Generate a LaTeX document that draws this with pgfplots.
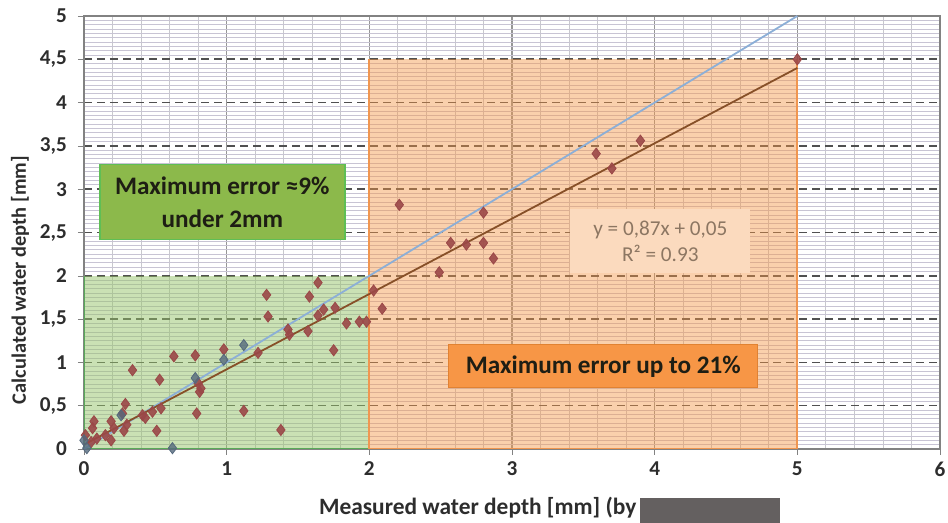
\documentclass[border=0pt]{standalone}
\usepackage{pgfplots}
\pgfplotsset{compat=1.18}
\usepackage{fontspec}
\setmainfont{Carlito}
\definecolor{ptred}{RGB}{155,72,72}
\definecolor{ptblue}{RGB}{85,105,125}
\definecolor{oneone}{RGB}{140,175,215}
\definecolor{trend}{RGB}{135,80,40}
\definecolor{greenfill}{RGB}{150,195,105}
\definecolor{greenedge}{RGB}{90,170,90}
\definecolor{orangefill}{RGB}{245,150,70}
\definecolor{orangeedge}{RGB}{240,150,80}
\definecolor{boxgreen}{RGB}{140,185,75}
\definecolor{boxgreenedge}{RGB}{95,190,85}
\definecolor{boxorange}{RGB}{247,150,70}
\definecolor{boxorangeedge}{RGB}{225,130,50}
\definecolor{eqfill}{RGB}{251,218,190}
\definecolor{eqtext}{RGB}{140,118,98}
\definecolor{textdark}{RGB}{30,30,20}
\definecolor{boxgray}{RGB}{100,96,96}
\definecolor{labeltext}{RGB}{45,45,45}
\begin{document}
\begin{tikzpicture}
\path[use as bounding box] (-42pt,-37pt) rectangle (432pt,224.5pt);
\begin{axis}[
  scale only axis, width=428pt, height=216.5pt,
  xmin=0, xmax=6, ymin=0, ymax=5,
  xtick={0,1,...,6}, ytick={0,0.5,...,5},
  minor x tick num=4, minor y tick num=9,
  grid=both,
  major x grid style={draw={rgb,255:red,150;green,150;blue,150}, line width=0.6pt},
  minor x grid style={draw={rgb,255:red,200;green,200;blue,205}, line width=0.4pt},
  major y grid style={draw={rgb,255:red,80;green,80;blue,80}, line width=0.8pt, dash pattern=on 4pt off 2.5pt},
  minor y grid style={draw={rgb,255:red,200;green,196;blue,212}, line width=0.45pt},
  axis line style={draw={rgb,255:red,130;green,130;blue,130}, line width=0.8pt},
  tick align=outside, major tick length=3pt, minor tick length=0pt,
  tick style={draw={rgb,255:red,130;green,130;blue,130}},
  xtick pos=bottom, ytick pos=left,
  /pgf/number format/assume math mode=true,
  /pgf/number format/use comma,
  ticklabel style={font=\fontsize{10.6}{12}\selectfont\bfseries, text=labeltext},
  yticklabel style={xshift=-2pt},
  xlabel={Measured water depth [mm] (by\,\textcolor{boxgray}{\rule[-4.5pt]{70pt}{12.5pt}}},
  ylabel={Calculated water depth [mm]},
  xlabel style={font=\fontsize{11.7}{13}\selectfont\bfseries, text=labeltext, at={(axis description cs:0.544,-0.141)}, anchor=center},
  ylabel style={font=\fontsize{10.2}{12}\selectfont\bfseries, text=labeltext, at={(axis description cs:-0.0748,0.39)}, anchor=center},
]
% shaded regions
\addplot[draw=none, fill=greenfill, fill opacity=0.5] coordinates {(0,2) (2,2)} \closedcycle;
\addplot[draw=none, fill=orangefill, fill opacity=0.45] coordinates {(2,4.5) (5,4.5)} \closedcycle;
\addplot[greenedge, line width=1.3pt] coordinates {(0,2) (0,0) (2,0)};
\addplot[orangeedge, line width=0.9pt] coordinates {(2,4.5) (2,0) (5,0) (5,4.5)};
% 1:1 line and trend line
\addplot[oneone, line width=0.9pt] coordinates {(0,0) (5,5)};
\addplot[trend, line width=0.9pt] coordinates {(0,0.05) (5,4.40)};
% measured points
\addplot[only marks, mark=diamond*, mark size=2.8pt, color=ptred, fill opacity=0.9] coordinates {
(0.01,0.16) (0.05,0.08) (0.06,0.24) (0.07,0.32) (0.09,0.12) (0.15,0.16) (0.19,0.10)
(0.19,0.32) (0.21,0.24) (0.28,0.21) (0.30,0.28) (0.27,0.41) (0.29,0.52) (0.34,0.91)
(0.41,0.39) (0.43,0.36) (0.48,0.43) (0.51,0.21) (0.54,0.47) (0.53,0.80) (0.63,1.07)
(0.78,1.08) (0.79,0.41) (0.81,0.66) (0.80,0.76) (0.82,0.70) (0.98,1.15) (1.12,0.44)
(1.22,1.11) (1.28,1.78) (1.29,1.53) (1.38,0.22) (1.43,1.38) (1.44,1.32) (1.57,1.36)
(1.58,1.76) (1.64,1.92) (1.64,1.54) (1.68,1.61) (1.76,1.63) (1.75,1.14) (1.84,1.45)
(1.93,1.47) (1.98,1.47) (2.03,1.83) (2.09,1.62) (2.21,2.82) (2.49,2.04) (2.57,2.38)
(2.68,2.36) (2.80,2.38) (2.80,2.73) (2.87,2.20) (3.59,3.41) (3.70,3.24) (3.90,3.56)
(5.00,4.50)
};
\addplot[only marks, mark=diamond*, mark size=2.8pt, color=ptblue, fill opacity=0.8] coordinates {
(0.00,0.10) (0.02,0.01) (0.62,0.01) (0.26,0.39) (0.78,0.82) (0.98,1.03) (1.12,1.20)
};
% annotation boxes
\node[fill=boxgreen, draw=boxgreenedge, line width=0.8pt, minimum width=122.5pt, minimum height=37.5pt,
  align=center, font=\fontsize{12.6}{16.5}\selectfont\bfseries, text=textdark, inner sep=2pt]
  at (axis cs:0.97,2.85) {Maximum error ≈9\%\\under 2mm};
\node[fill=boxorange, draw=boxorangeedge, line width=0.6pt, minimum width=154.5pt, minimum height=21.5pt,
  align=center, font=\fontsize{12.6}{14}\selectfont\bfseries, text=textdark, inner sep=2pt]
  at (axis cs:3.64,0.955) {Maximum error up to 21\%};
\node[fill=eqfill, minimum width=90pt, minimum height=32pt, align=center,
  font=\fontsize{10.6}{13}\selectfont, text=eqtext, inner sep=2pt]
  at (axis cs:4.04,2.40) {y = 0,87x + 0,05\\R² = 0.93};
\end{axis}
\end{tikzpicture}
\end{document}
